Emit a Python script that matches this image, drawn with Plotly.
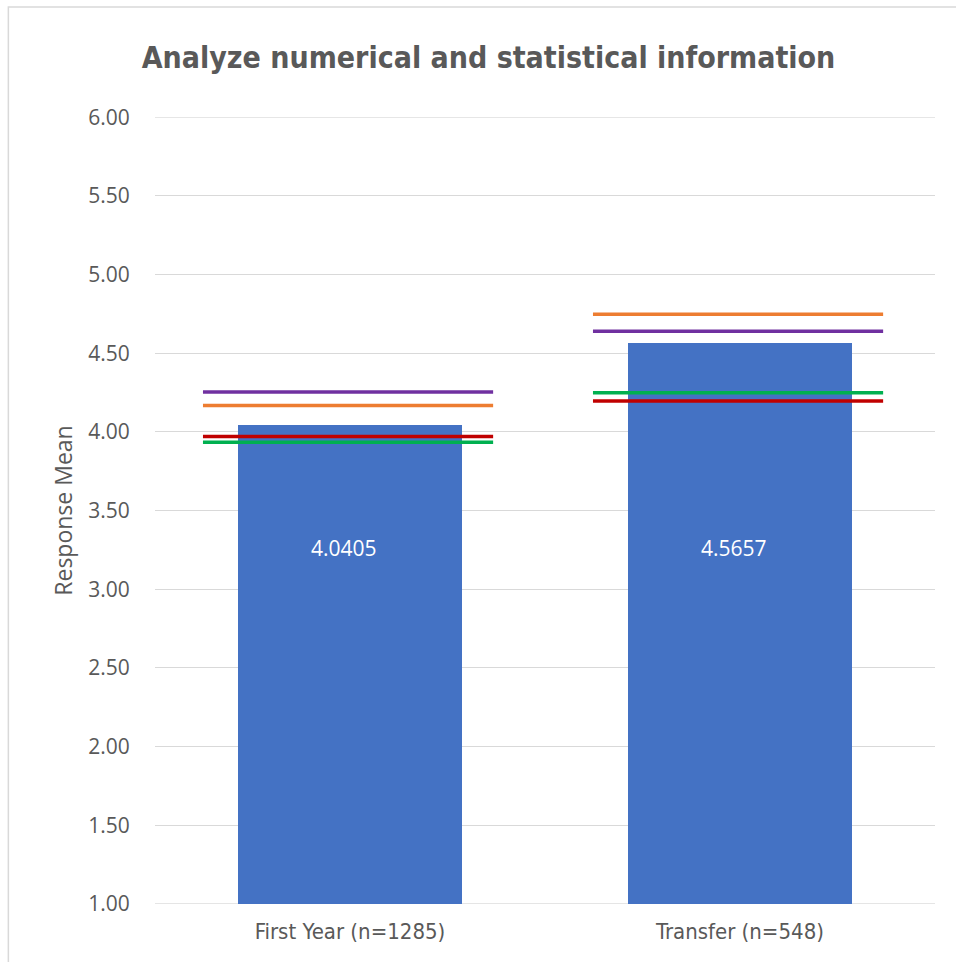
import plotly.graph_objects as go

# Survey item: response means by student group
categories = ["First Year (n=1285)", "Transfer (n=548)"]
means = [4.0405, 4.5657]

# Comparison benchmarks drawn as short horizontal markers over each bar
bench_purple = [4.253, 4.640]
bench_orange = [4.168, 4.748]
bench_red = [3.971, 4.196]
bench_green = [3.933, 4.248]

benchmarks = [
    ("Benchmark A", bench_purple, "#7030A0"),
    ("Benchmark B", bench_orange, "#ED7D31"),
    ("Benchmark C", bench_red, "#C00000"),
    ("Benchmark D", bench_green, "#00B050"),
]

tick_vals = [1.0, 1.5, 2.0, 2.5, 3.0, 3.5, 4.0, 4.5, 5.0, 5.5, 6.0]
y_min, y_max = 1.0, 6.0
label_level = 3.26

xs = list(range(len(categories)))
fig = go.Figure()

fig.add_trace(go.Bar(
    x=xs, y=means, base=0, width=0.572,
    marker=dict(color="#4472C4", line=dict(width=0)),
    name="Response Mean", hoverinfo="x+y",
))

half = 0.372
for name, vals, color in benchmarks:
    lx, ly = [], []
    for i, v in enumerate(vals):
        lx += [i - half - 0.005, i + half - 0.005, None]
        ly += [v, v, None]
    fig.add_trace(go.Scatter(
        x=lx, y=ly, mode="lines", name=name,
        line=dict(color=color, width=3.5),
    ))

for i, v in enumerate(means):
    fig.add_annotation(
        x=i - 0.015, y=label_level, text=f"{v:.4f}", showarrow=False,
        font=dict(family="Open Sans, sans-serif", size=21, color="white"),
    )

# Gridlines at the axis limits
for yv in (y_min, y_max):
    fig.add_shape(type="line", xref="paper", yref="y", x0=0, x1=1, y0=yv, y1=yv,
                  line=dict(color="#D9D9D9", width=1), layer="below")

# Chart border
fig.add_shape(type="rect", xref="paper", yref="paper",
              x0=-0.188, x1=1.2, y0=-0.2, y1=1.1398,
              line=dict(color="#D9D9D9", width=1.5), layer="below")

fig.update_layout(
    width=956, height=962,
    margin=dict(l=155, r=21, t=117, b=58),
    paper_bgcolor="white", plot_bgcolor="white",
    showlegend=False,
    title=dict(
        text="<b>Analyze numerical and statistical information</b>",
        x=0.511, xanchor="center", y=0.9405, yanchor="middle",
        font=dict(family="DejaVu Sans Condensed, sans-serif",
                  size=30, color="#595959"),
    ),
    bargap=0.0,
)

fig.update_xaxes(
    range=[-0.5, 1.5], tickmode="array", tickvals=xs, ticktext=categories,
    showgrid=False, zeroline=False, showline=False,
    ticks="outside", ticklen=8, tickcolor="rgba(0,0,0,0)",
    tickfont=dict(family="DejaVu Sans Condensed, sans-serif",
                  size=22, color="#595959"),
)
fig.update_yaxes(
    range=[y_min - 0.001, y_max + 0.001], tickmode="array", tickvals=tick_vals,
    tickformat=".2f",
    showgrid=True, gridcolor="#D9D9D9", gridwidth=1,
    zeroline=False, showline=False,
    ticks="outside", ticklen=20, tickcolor="rgba(0,0,0,0)",
    tickfont=dict(family="Open Sans, sans-serif", size=21, color="#595959"),
    title=dict(text="Response Mean", standoff=9,
               font=dict(family="Open Sans, sans-serif", size=23, color="#595959")),
)

fig.write_html("out.html")
